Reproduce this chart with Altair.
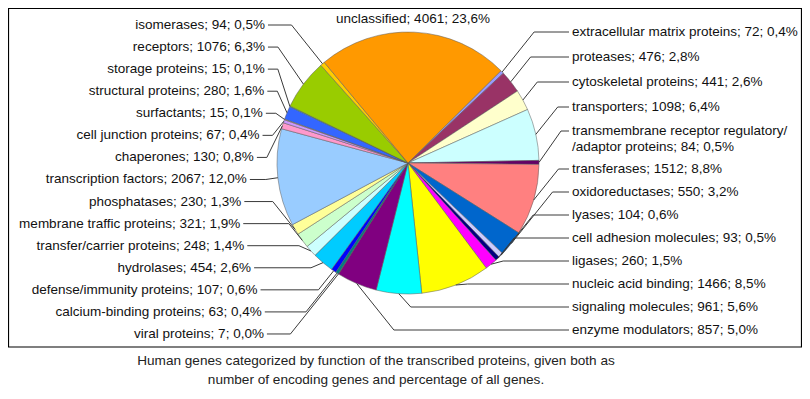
import math
import altair as alt
import pandas as pd

# ---- data ----
names = [
    "extracellular matrix proteins", "proteases", "cytoskeletal proteins", "transporters",
    "transmembrane receptor regulatory/\n/adaptor proteins", "transferases", "oxidoreductases",
    "lyases", "cell adhesion molecules", "ligases", "nucleic acid binding", "signaling molecules",
    "enzyme modulators", "viral proteins", "calcium-binding proteins", "defense/immunity proteins",
    "hydrolases", "transfer/carrier proteins", "membrane traffic proteins", "phosphatases",
    "transcription factors", "chaperones", "cell junction proteins", "surfactants",
    "structural proteins", "storage proteins", "receptors", "isomerases", "unclassified",
]
counts = [72, 476, 441, 1098, 84, 1512, 550, 104, 93, 260, 1466, 961, 857, 7, 63, 107, 454,
          248, 321, 230, 2067, 130, 67, 15, 280, 15, 1076, 94, 4061]
percents = ["0,4", "2,8", "2,6", "6,4", "0,5", "8,8", "3,2", "0,6", "0,5", "1,5", "8,5", "5,6",
            "5,0", "0,0", "0,4", "0,6", "2,6", "1,4", "1,9", "1,3", "12,0", "0,8", "0,4", "0,1",
            "1,6", "0,1", "6,3", "0,5", "23,6"]
colors = ["#9999FF", "#993366", "#FFFFCC", "#CCFFFF", "#660066", "#FF8080", "#0066CC", "#CCCCFF",
          "#000080", "#FF00FF", "#FFFF00", "#00FFFF", "#800080", "#800000", "#008080", "#0000FF",
          "#00CCFF", "#CCFFFF", "#CCFFCC", "#FFFF99", "#99CCFF", "#FF99CC", "#CC99FF", "#FFCC99",
          "#3366FF", "#33CCCC", "#99CC00", "#FFCC00", "#FF9900"]
caption = [
    "Human genes categorized by function of the transcribed proteins, given both as",
    "number of encoding genes and percentage of all genes.",
]

# ---- layout ----
W, H = 794, 383
cx, cy, R = 400, 155, 131
a0 = math.radians(45.2)
total = sum(counts)
FONT = "Liberation Sans"

labels = [f"{n}; {c}; {p}%" for n, c, p in zip(names, counts, percents)]

mids = []
cum = 0
for c in counts:
    mids.append(a0 + 2 * math.pi * (cum + c / 2) / total)
    cum += c

# right column: labels stacked upward from the bottom one
right_idx = list(range(0, 13))
right_y = {}
yb = 322
for i in range(12, 4, -1):
    right_y[i] = yb
    yb -= 23
right_y[4] = right_y[5] - 38          # first line of the two-line label
right_y[3] = right_y[4] - 24
for i in (2, 1, 0):
    right_y[i] = right_y[i + 1] - 25

left_idx = list(range(27, 12, -1))

RX = 564
rows_r, rows_l, lines = [], [], []


def leader(i, ly, side, lx):
    m = mids[i]
    ex = cx + R * math.sin(m)
    ey = cy - R * math.cos(m)
    d = max(abs(ly - ey) * 0.8, 12)
    if side > 0:
        bx = min(ex + d, lx - 8)
    else:
        bx = max(ex - d, lx + 10)
    for k, (px, py) in enumerate([(ex, ey), (bx, ly), (lx, ly)]):
        lines.append({"name": names[i], "k": k, "x": px, "y": py})


for i in right_idx:
    ly = right_y[i]
    rows_r.append({"label": labels[i], "x": RX, "y": ly})
    leader(i, ly, 1, RX - 3)

for j, i in enumerate(left_idx):
    ly = 17 + j * 22.07
    lx = 257 - 25 * math.exp(-((j - 8.7) / 3.0) ** 2)
    rows_l.append({"label": labels[i], "x": lx, "y": ly})
    leader(i, ly, -1, lx + 3)

xs = alt.Scale(domain=[0, W], nice=False, zero=False)
ys = alt.Scale(domain=[H, 0], nice=False, zero=False)

slices = pd.DataFrame({"name": names, "count": counts, "order": list(range(len(names))),
                       "color": colors})

arc = alt.Chart(slices).mark_arc(outerRadius=R, stroke="#5a5a5a", strokeWidth=0.5).encode(
    theta=alt.Theta("count:Q", stack=True, scale=alt.Scale(range=[a0, a0 + 2 * math.pi])),
    order=alt.Order("order:Q"),
    color=alt.Color("color:N", scale=None, legend=None),
    x=alt.value(cx),
    y=alt.value(cy),
)

lead = alt.Chart(pd.DataFrame(lines)).mark_line(color="#3a3a3a", strokeWidth=1).encode(
    x=alt.X("x:Q", scale=xs, axis=None),
    y=alt.Y("y:Q", scale=ys, axis=None),
    detail="name:N",
    order="k:Q",
)

txt_r = alt.Chart(pd.DataFrame(rows_r)).mark_text(
    align="left", baseline="middle", font=FONT, fontSize=13.5, color="#111111",
    lineBreak="\n", lineHeight=16,
).encode(x=alt.X("x:Q", scale=xs, axis=None), y=alt.Y("y:Q", scale=ys, axis=None), text="label:N")

txt_l = alt.Chart(pd.DataFrame(rows_l)).mark_text(
    align="right", baseline="middle", font=FONT, fontSize=13.5, color="#111111",
).encode(x=alt.X("x:Q", scale=xs, axis=None), y=alt.Y("y:Q", scale=ys, axis=None), text="label:N")

top = alt.Chart(pd.DataFrame({"label": [labels[28]]})).mark_text(
    align="center", baseline="middle", font=FONT, fontSize=13.5, color="#111111",
).encode(x=alt.value(cx + 5), y=alt.value(11), text="label:N")

border = alt.Chart(pd.DataFrame({"a": [0]})).mark_rect(
    fillOpacity=0, stroke="#000000", strokeWidth=1.2,
).encode(x=alt.value(0.5), x2=alt.value(W - 0.5), y=alt.value(0.5), y2=alt.value(339))

cap = alt.Chart(pd.DataFrame({"t": caption, "i": [0, 1]})).mark_text(
    align="center", baseline="middle", font=FONT, fontSize=13.6, color="#222222",
).encode(
    x=alt.value(368),
    y=alt.Y("i:Q", scale=alt.Scale(domain=[0, 1], range=[353, 372]), axis=None),
    text="t:N",
)

chart = alt.layer(border, arc, lead, txt_r, txt_l, top, cap).resolve_scale(y="independent").properties(
    width=W, height=H, padding=0, autosize=alt.AutoSizeParams(type="none"),
    background="white",
).configure_view(stroke=None)

chart.save("out.html", embed_options={"renderer": "svg", "actions": False})
